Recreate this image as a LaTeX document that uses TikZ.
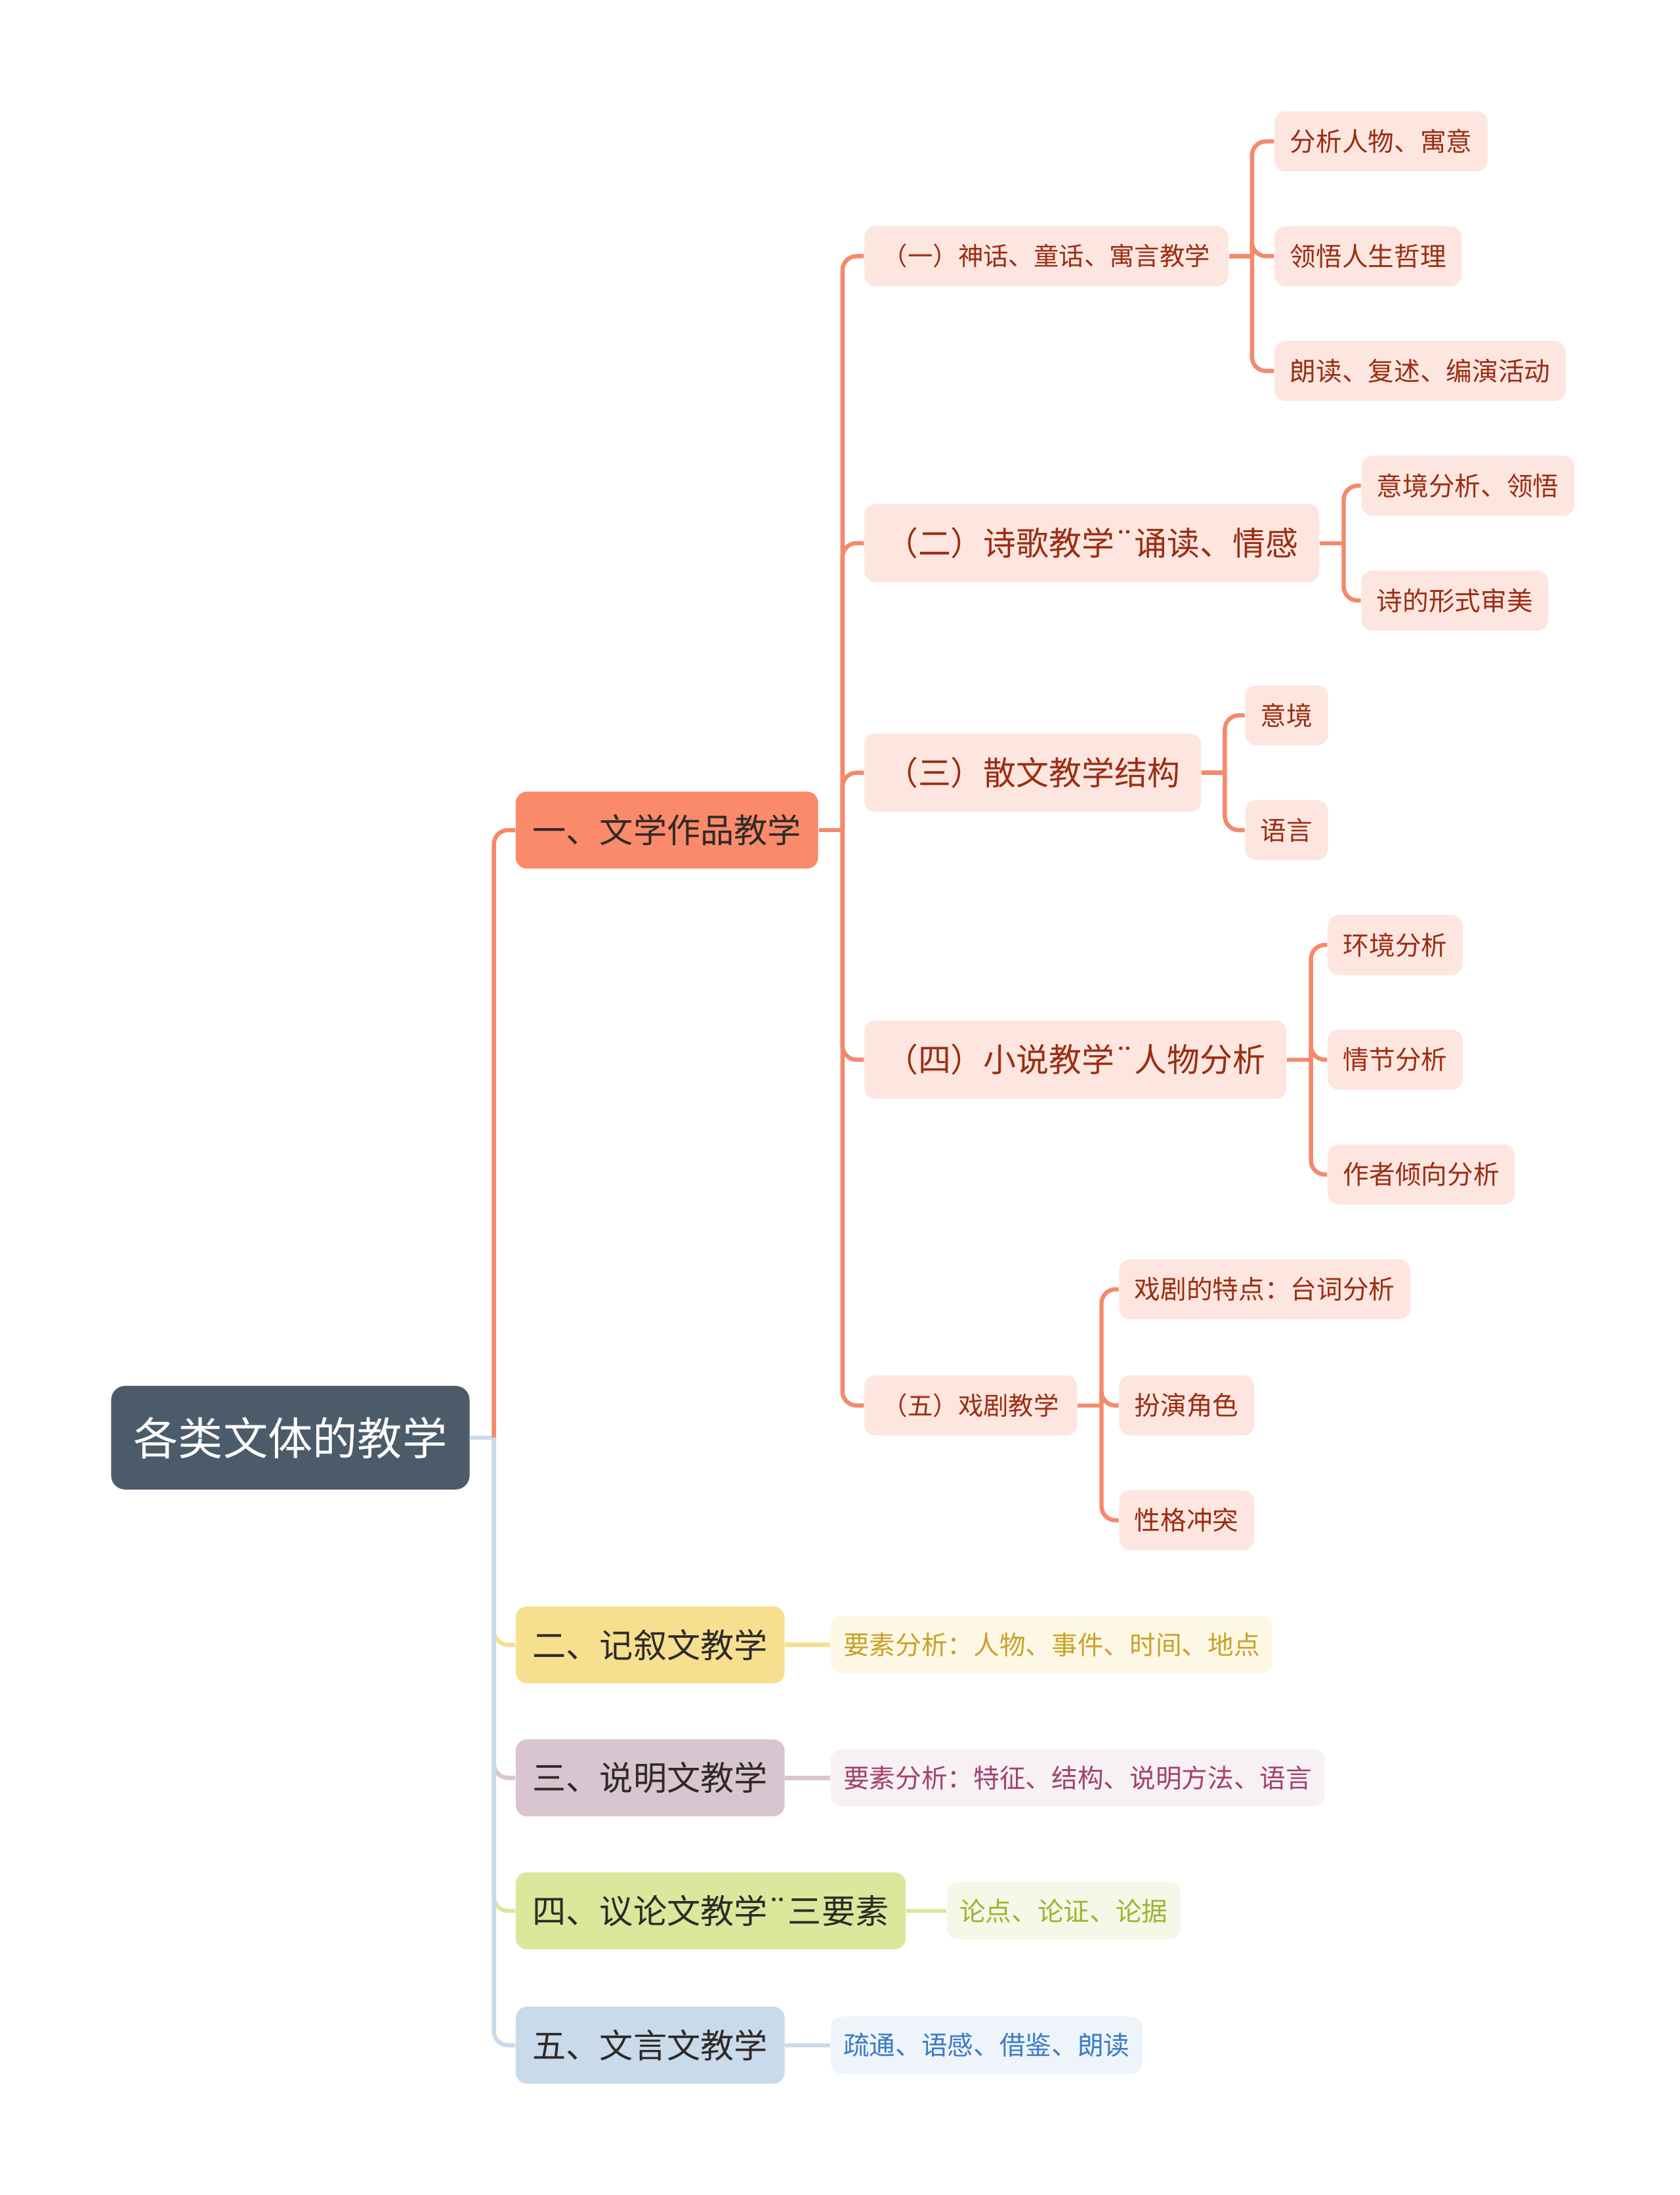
\documentclass[tikz,border=0pt]{standalone}
\usepackage{fontspec}
\newfontfamily\cjk{Noto Sans CJK SC}
\definecolor{rootfill}{HTML}{4B5B6A}
\definecolor{orfill}{HTML}{FA8A6A}
\definecolor{orline}{HTML}{F4896B}
\definecolor{orpale}{HTML}{FDE6E0}
\definecolor{ortext}{HTML}{9C2D12}
\definecolor{maintext}{HTML}{2E2A28}
\definecolor{yefill}{HTML}{F7DF90}
\definecolor{yepale}{HTML}{FDF8E6}
\definecolor{yetext}{HTML}{C9A227}
\definecolor{mafill}{HTML}{D9C5CF}
\definecolor{mapale}{HTML}{F7F1F4}
\definecolor{matext}{HTML}{A3416F}
\definecolor{lifill}{HTML}{D9E89A}
\definecolor{lipale}{HTML}{F4F8E6}
\definecolor{litext}{HTML}{9BB532}
\definecolor{blfill}{HTML}{C9DAEA}
\definecolor{blpale}{HTML}{EEF4FA}
\definecolor{bltext}{HTML}{3A7BC4}

\begin{document}
\begin{tikzpicture}[x=0.5pt, y=-0.5pt,
	rootnode/.style={anchor=west, fill=rootfill, text=white, rounded corners=5pt, inner xsep=8pt, inner ysep=0pt, minimum height=37pt, font={\cjk\fontsize{16}{18}\selectfont}},
	mainnode/.style={anchor=west, fill=#1, text=maintext, rounded corners=4pt, inner xsep=6pt, inner ysep=0pt, minimum height=27.5pt, font={\cjk\fontsize{12}{14}\selectfont}},
	subnode/.style={anchor=west, fill=orpale, text=ortext, rounded corners=4pt, inner xsep=7.5pt, inner ysep=0pt, minimum height=28pt, font={\cjk\fontsize{11.7}{13}\selectfont}},
	subsmall/.style={anchor=west, fill=orpale, text=ortext, rounded corners=4pt, inner xsep=6.5pt, inner ysep=0pt, minimum height=21.5pt, font={\cjk\fontsize{9}{11}\selectfont}},
	leafnode/.style={anchor=west, fill=orpale, text=ortext, rounded corners=4pt, inner xsep=5.5pt, inner ysep=0pt, minimum height=21.5pt, font={\cjk\fontsize{9.3}{11}\selectfont}},
	tipnode/.style 2 args={anchor=west, fill=#1, text=#2, rounded corners=4pt, inner xsep=4.5pt, inner ysep=0pt, minimum height=20.5pt, font={\cjk\fontsize{9.3}{11}\selectfont}},
	branch/.style={draw=#1, line width=1.5pt, rounded corners=5pt}]
	\useasboundingbox (0,0) rectangle (1200,1568);

	\node[rootnode] (root) at (79,1027) {各类文体的教学};

	\node[mainnode=orfill] (m1) at (368,593) {一、文学作品教学};
	\node[mainnode=yefill] (m2) at (368,1175) {二、记叙文教学};
	\node[mainnode=mafill] (m3) at (368,1270) {三、说明文教学};
	\node[mainnode=lifill] (m4) at (368,1365) {四、议论文教学¨三要素};
	\node[mainnode=blfill] (m5) at (368,1461) {五、文言文教学};

	\node[subsmall] (s1) at (617,183) {（一）神话、童话、寓言教学};
	\node[subnode] (s2) at (617,388) {（二）诗歌教学¨诵读、情感};
	\node[subnode] (s3) at (617,552) {（三）散文教学结构};
	\node[subnode] (s4) at (617,757) {（四）小说教学¨人物分析};
	\node[subsmall] (s5) at (617,1004) {（五）戏剧教学};

	\node[leafnode] (l11) at (910,101) {分析人物、寓意};
	\node[leafnode] (l12) at (910,183) {领悟人生哲理};
	\node[leafnode] (l13) at (910,265) {朗读、复述、编演活动};
	\node[leafnode] (l21) at (972,347) {意境分析、领悟};
	\node[leafnode] (l22) at (972,429) {诗的形式审美};
	\node[leafnode] (l31) at (889,511) {意境};
	\node[leafnode] (l32) at (889,593) {语言};
	\node[leafnode] (l41) at (948,675) {环境分析};
	\node[leafnode] (l42) at (948,757) {情节分析};
	\node[leafnode] (l43) at (948,839) {作者倾向分析};
	\node[leafnode] (l51) at (799,921) {戏剧的特点：台词分析};
	\node[leafnode] (l52) at (799,1004) {扮演角色};
	\node[leafnode] (l53) at (799,1086) {性格冲突};

	\node[tipnode={yepale}{yetext}] (t2) at (593,1175) {要素分析：人物、事件、时间、地点};
	\node[tipnode={mapale}{matext}] (t3) at (593,1270) {要素分析：特征、结构、说明方法、语言};
	\node[tipnode={lipale}{litext}] (t4) at (676,1365) {论点、论证、论据};
	\node[tipnode={blpale}{bltext}] (t5) at (593,1461) {疏通、语感、借鉴、朗读};

	% root to main branches
	\draw[branch=blfill] (root.east) -- ++(17,0) coordinate (jr);
	\draw[branch=orline] (jr) |- (m1.west);
	\draw[branch=yefill] (jr) |- (m2.west);
	\draw[branch=mafill] (jr) |- (m3.west);
	\draw[branch=lifill] (jr) |- (m4.west);
	\draw[branch=blfill] (jr) |- (m5.west);

	% main branch one
	\draw[branch=orline] (m1.east) -- ++(17,0) coordinate (j1);
	\foreach \c in {s1,s2,s3,s4,s5}
		\draw[branch=orline] (j1) |- (\c.west);

	\draw[branch=orline] (s1.east) -- ++(16.5,0) coordinate (ja);
	\foreach \c in {l11,l12,l13}
		\draw[branch=orline] (ja) |- (\c.west);
	\draw[branch=orline] (s2.east) -- ++(17,0) coordinate (jb);
	\foreach \c in {l21,l22}
		\draw[branch=orline] (jb) |- (\c.west);
	\draw[branch=orline] (s3.east) -- ++(16.5,0) coordinate (jc);
	\foreach \c in {l31,l32}
		\draw[branch=orline] (jc) |- (\c.west);
	\draw[branch=orline] (s4.east) -- ++(17,0) coordinate (jd);
	\foreach \c in {l41,l42,l43}
		\draw[branch=orline] (jd) |- (\c.west);
	\draw[branch=orline] (s5.east) -- ++(17,0) coordinate (je);
	\foreach \c in {l51,l52,l53}
		\draw[branch=orline] (je) |- (\c.west);

	% other branches
	\draw[branch=yefill] (m2.east) -- (t2.west);
	\draw[branch=mafill] (m3.east) -- (t3.west);
	\draw[branch=lifill] (m4.east) -- (t4.west);
	\draw[branch=blfill] (m5.east) -- (t5.west);
\end{tikzpicture}
\end{document}
